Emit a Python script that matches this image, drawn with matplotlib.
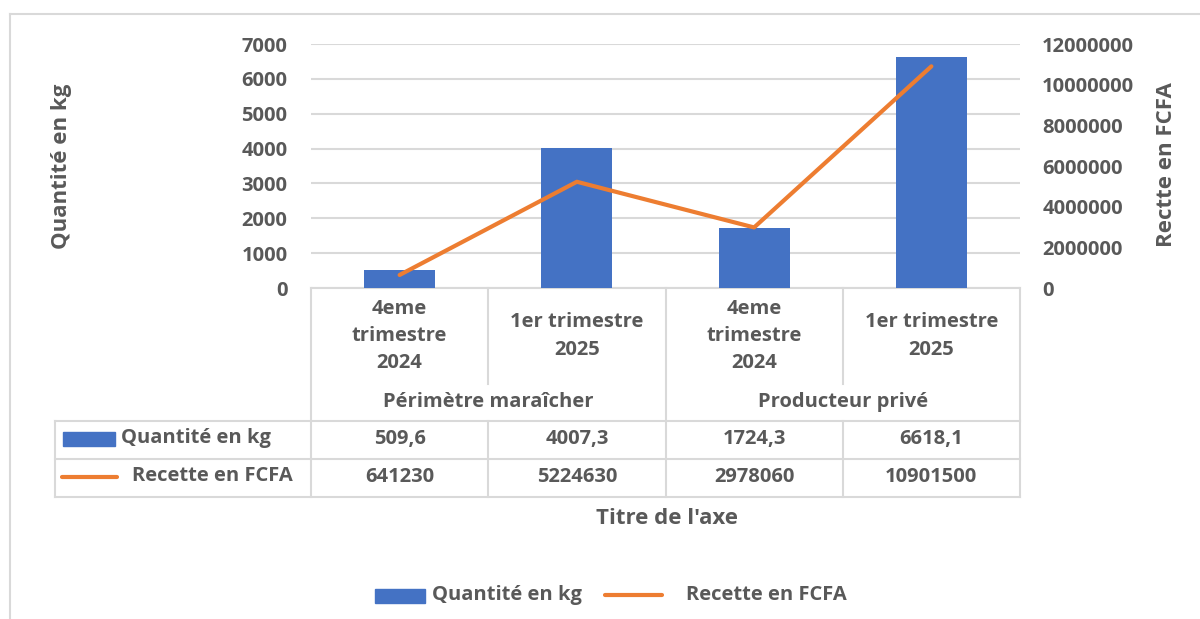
import matplotlib.pyplot as plt
import matplotlib.patches as mpatches
from matplotlib.ticker import FuncFormatter
import numpy as np

# data
categories = ["4eme\ntrimestre\n2024", "1er trimestre\n2025",
              "4eme\ntrimestre\n2024", "1er trimestre\n2025"]
groups = ["Périmètre maraîcher", "Producteur privé"]
quantite = [509.6, 4007.3, 1724.3, 6618.1]
recette = [641230, 5224630, 2978060, 10901500]
series_names = ["Quantité en kg", "Recette en FCFA"]

plt.rcParams['font.family'] = ['Open Sans', 'DejaVu Sans']
plt.rcParams['font.weight'] = 'bold'

GREY = '#595959'
LINE = '#d9d9d9'
BLUE = '#4472C4'
ORANGE = '#ED7D31'
FS = 14.5
FT = 16

W, H = 1200, 619
fig = plt.figure(figsize=(W / 100, H / 100), dpi=100)

# overlay in pixel coords for frame, data table and legend
ov = fig.add_axes([0, 0, 1, 1])
ov.set_xlim(0, W)
ov.set_ylim(H, 0)
ov.axis('off')

# plot area
L, R, T, B = 311, 1020, 44, 288
ax = fig.add_axes([L / W, 1 - B / H, (R - L) / W, (B - T) / H])
ax.patch.set_alpha(0)
x = np.arange(len(quantite))
ax.bar(x, quantite, width=0.4, color=BLUE, zorder=3)
ax.set_xlim(-0.5, len(x) - 0.5)
ax.set_ylim(0, 7000)
ax.set_yticks(range(0, 7001, 1000))
ax.set_xticks([])
ax.grid(axis='y', color=LINE, lw=1.5, zorder=0)
ax.set_axisbelow(True)
for s in ax.spines.values():
    s.set_visible(False)
ax.tick_params(axis='y', length=0, pad=17, labelsize=FS, labelcolor=GREY)

ax2 = ax.twinx()
ax2.plot(x, recette, color=ORANGE, lw=3, solid_capstyle='round', zorder=4)
ax2.set_ylim(0, 12000000)
ax2.set_yticks(range(0, 12000001, 2000000))
ax2.yaxis.set_major_formatter(FuncFormatter(lambda v, p: f"{v:.0f}"))
for s in ax2.spines.values():
    s.set_visible(False)
ax2.tick_params(axis='y', length=0, pad=16, labelsize=FS, labelcolor=GREY)

# axis titles
fig.text(62 / W, 1 - 166 / H, "Quantité en kg", rotation=90, ha='center',
         va='center', fontsize=FT, color=GREY)
fig.text(1166 / W, 1 - 165 / H, "Rectte en FCFA", rotation=90, ha='center',
         va='center', fontsize=FT, color=GREY)

# outer chart frame
ov.plot([10, 10], [14, H], color=LINE, lw=1.5)
ov.plot([10, W], [14, 14], color=LINE, lw=1.5)

# data table
cols = [L + i * (R - L) / len(x) for i in range(len(x) + 1)]
centers = [(cols[i] + cols[i + 1]) / 2 for i in range(len(x))]
row1, row2, row3 = 421, 459, 497
lk = dict(color=LINE, lw=1.5)
ov.plot([L, R], [B, B], **lk)
for yy in (row1, row2, row3):
    ov.plot([55, R], [yy, yy], **lk)
ov.plot([55, 55], [row1, row3], **lk)
for i, cx in enumerate(cols):
    if i % 2 == 1:
        ov.plot([cx, cx], [B, 384], **lk)
        ov.plot([cx, cx], [row1, row3], **lk)
    else:
        ov.plot([cx, cx], [B, row3], **lk)

for cx, lab in zip(centers, categories):
    ov.text(cx, 336, lab, ha='center', va='center', fontsize=FS,
            color=GREY, linespacing=1.5)
for g, lab in enumerate(groups):
    ov.text(cols[2 * g + 1], 402, lab, ha='center', va='center',
            fontsize=FS, color=GREY)
for cx, q, r in zip(centers, quantite, recette):
    ov.text(cx, 439, f"{q:.1f}".replace('.', ','), ha='center', va='center',
            fontsize=FS, color=GREY)
    ov.text(cx, 477, f"{r}", ha='center', va='center', fontsize=FS, color=GREY)

# legend keys inside table
ov.add_patch(mpatches.Rectangle((63, 432), 52, 14, color=BLUE))
ov.text(121, 438, series_names[0], ha='left', va='center', fontsize=FS, color=GREY)
ov.plot([62, 117], [477, 477], color=ORANGE, lw=3, solid_capstyle='round')
ov.text(132, 476, series_names[1], ha='left', va='center', fontsize=FS, color=GREY)

# x axis title
ov.text(667, 519, "Titre de l'axe", ha='center', va='center', fontsize=FT, color=GREY)

# bottom legend
ov.add_patch(mpatches.Rectangle((375, 589), 50, 14, color=BLUE))
ov.text(432, 595, series_names[0], ha='left', va='center', fontsize=FS, color=GREY)
ov.plot([605, 662], [595, 595], color=ORANGE, lw=3, solid_capstyle='round')
ov.text(686, 595, series_names[1], ha='left', va='center', fontsize=FS, color=GREY)

fig.savefig('out.png', dpi=100)
